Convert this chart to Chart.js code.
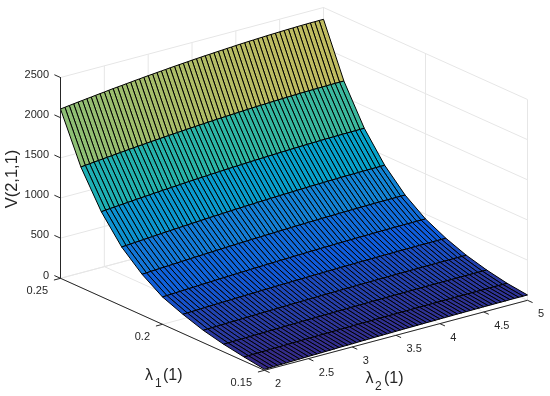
<!DOCTYPE html>
<html>
<head>
<meta charset="utf-8">
<style>
  html, body { margin: 0; padding: 0; background: #fff; }
  canvas { display: block; }
</style>
<script src="https://cdn.jsdelivr.net/npm/chart.js@4/dist/chart.umd.min.js"></script>
</head>
<body>
<canvas id="surface" width="550" height="396"></canvas>
<script>
const lambda1Values = [0.25, 0.24, 0.23, 0.22, 0.21, 0.2, 0.19, 0.18, 0.17, 0.16, 0.15];
const lambda2Values = [2, 2.05, 2.1, 2.15, 2.2, 2.25, 2.3, 2.35, 2.4, 2.45, 2.5, 2.55, 2.6, 2.65, 2.7, 2.75, 2.8, 2.85, 2.9, 2.95, 3, 3.05, 3.1, 3.15, 3.2, 3.25, 3.3, 3.35, 3.4, 3.45, 3.5, 3.55, 3.6, 3.65, 3.7, 3.75, 3.8, 3.85, 3.9, 3.95, 4, 4.05, 4.1, 4.15, 4.2, 4.25, 4.3, 4.35, 4.4, 4.45, 4.5, 4.55, 4.6, 4.65, 4.7, 4.75, 4.8, 4.85, 4.9, 4.95, 5];

const v025 = [2108,2115,2122,2129,2136,2142,2149,2155,2162,2168,2174,2181,2187,2193,2198,2204,2210,2216,2221,2227,2232,2237,2242,2247,2252,2257,2262,2266,2271,2275,2280,2284,2288,2292,2295,2299,2303,2306,2310,2313,2317,2320,2323,2326,2328,2331,2333,2336,2338,2340,2342,2344,2346,2347,2349,2350,2351,2352,2352,2353,2353];
const v024 = [1500,1506,1511,1517,1522,1528,1533,1538,1544,1549,1554,1559,1564,1569,1573,1578,1583,1587,1592,1596,1601,1605,1609,1613,1617,1621,1625,1629,1632,1636,1639,1643,1646,1649,1652,1655,1658,1661,1664,1667,1670,1672,1674,1677,1679,1681,1683,1685,1687,1689,1690,1692,1693,1694,1695,1696,1697,1698,1698,1699,1699];
const v023 = [1058,1063,1068,1072,1077,1081,1086,1090,1095,1099,1103,1107,1112,1116,1120,1124,1127,1131,1135,1139,1143,1146,1150,1153,1156,1160,1163,1166,1169,1172,1175,1178,1180,1183,1186,1188,1191,1193,1196,1198,1200,1202,1204,1206,1208,1210,1212,1213,1215,1216,1218,1219,1220,1221,1222,1223,1223,1224,1224,1225,1225];
const v022 = [733,737,741,745,749,753,757,761,765,769,773,776,780,783,787,790,794,797,800,804,807,810,813,816,819,822,825,827,830,833,835,838,840,842,845,847,849,851,853,855,857,859,861,863,864,866,867,869,870,871,873,874,875,875,876,877,878,878,879,879,879];
const v021 = [508,511,515,518,521,524,527,530,533,536,539,542,545,548,550,553,556,558,561,564,566,569,571,573,576,578,580,582,584,586,588,590,592,594,596,598,600,601,603,604,606,607,609,610,611,613,614,615,616,617,618,619,620,620,621,622,622,622,623,623,623];
const v020 = [340,343,346,349,351,354,357,359,362,365,367,370,372,375,377,379,382,384,386,388,391,393,395,397,399,401,403,405,406,408,410,412,413,415,417,418,420,421,422,424,425,426,428,429,430,431,432,433,434,435,436,436,437,438,438,439,439,439,440,440,440];
const v019 = [239,241,243,245,247,250,252,253,256,257,259,261,263,265,267,268,270,272,274,275,277,279,280,282,283,285,286,287,289,290,292,293,294,295,296,298,299,300,301,302,303,304,305,306,306,307,308,309,309,310,311,311,312,312,313,313,313,314,314,314,314];
const v018 = [154,156,158,159,161,163,165,166,168,169,171,173,174,176,177,179,180,182,183,184,186,187,189,190,191,192,194,195,196,197,198,199,200,201,202,203,204,205,206,207,208,208,209,210,211,211,212,213,213,214,214,215,215,215,216,216,216,217,217,217,217];
const v017 = [95,97,98,100,101,102,104,105,107,108,109,111,112,113,115,116,117,118,119,121,122,123,124,125,126,127,128,129,130,131,132,133,134,135,136,136,137,138,139,139,140,141,141,142,143,143,144,144,145,145,146,146,146,147,147,147,148,148,148,148,148];
const v016 = [51,52,54,55,56,57,59,60,61,62,63,65,66,67,68,69,70,71,72,73,74,75,76,77,78,79,80,81,82,82,83,84,85,85,86,87,88,88,89,90,90,91,91,92,92,93,93,94,94,95,95,95,96,96,96,96,97,97,97,97,97];
const v015 = [12,14,15,17,18,20,21,22,24,25,27,28,29,31,32,33,34,36,37,38,39,40,42,43,44,45,46,47,48,49,50,51,52,52,53,54,55,56,56,57,58,59,59,60,61,61,62,62,63,63,64,64,64,65,65,65,66,66,66,66,66];
const surfaceRows = [v025, v024, v023, v022, v021, v020, v019, v018, v017, v016, v015];

const vTicks = [0, 500, 1000, 1500, 2000, 2500];
const lambda1Ticks = [0.25, 0.2, 0.15];
const lambda2Ticks = [2, 2.5, 3, 3.5, 4, 4.5, 5];

// parula, old matlab version
const parula = ['#352a87', '#0f5cdd', '#1481d6', '#06a4ca', '#2eb7a4', '#87bf77', '#d1bb59', '#fec832', '#f9fb0e'];
const colorMin = 12;
const colorMax = 2353;

// fixed 3d view of the box, orthographic like the original
const view = { x0: 60.5, y0: 278.3, l1x: 204, l1y: 92, l2x: 263, l2y: -70, vy: -200.8 };

function project(l1, l2, v) {
    const a = (0.25 - l1) / 0.1;
    const b = (l2 - 2) / 3;
    return {
        x: view.x0 + a * view.l1x + b * view.l2x,
        y: view.y0 + a * view.l1y + b * view.l2y + (v / 2500) * view.vy
    };
}

function hexToRgb(hex) {
    return [1, 3, 5].map(i => parseInt(hex.substr(i, 2), 16));
}

function colorFor(v) {
    const t = Math.min(1, Math.max(0, (v - colorMin) / (colorMax - colorMin))) * (parula.length - 1);
    const i = Math.min(parula.length - 2, Math.floor(t));
    const a = hexToRgb(parula[i]);
    const b = hexToRgb(parula[i + 1]);
    const c = a.map((p, j) => Math.round(p + (b[j] - p) * (t - i)));
    return `rgb(${c[0]},${c[1]},${c[2]})`;
}

function lineSet(points, color, order, width) {
    return {
        data: points, showLine: true, fill: false, borderColor: color, borderWidth: width,
        pointRadius: 0, tension: 0, order: order
    };
}

const datasets = [];
const gridColor = '#e6e6e6';
const axisColor = '#262626';

// back walls and floor
vTicks.forEach(v => {
    datasets.push(lineSet([project(0.25, 2, v), project(0.25, 5, v), project(0.15, 5, v)], gridColor, 5000, 1));
});
lambda2Ticks.forEach(l2 => {
    datasets.push(lineSet([project(0.15, l2, 0), project(0.25, l2, 0), project(0.25, l2, 2500)], gridColor, 5000, 1));
});
lambda1Ticks.forEach(l1 => {
    datasets.push(lineSet([project(l1, 2, 0), project(l1, 5, 0), project(l1, 5, 2500)], gridColor, 5000, 1));
});

// surface cells, back rows first
for (let i = 0; i < lambda1Values.length - 1; i++) {
    for (let k = 0; k < lambda2Values.length - 1; k++) {
        const l1a = lambda1Values[i], l1b = lambda1Values[i + 1];
        const l2a = lambda2Values[k], l2b = lambda2Values[k + 1];
        const cell = [
            project(l1a, l2a, surfaceRows[i][k]),
            project(l1a, l2b, surfaceRows[i][k + 1]),
            project(l1b, l2b, surfaceRows[i + 1][k + 1]),
            project(l1b, l2a, surfaceRows[i + 1][k]),
            project(l1a, l2a, surfaceRows[i][k])
        ];
        datasets.push({
            data: cell, showLine: true, fill: 'shape',
            backgroundColor: colorFor(surfaceRows[i + 1][k]),
            borderColor: '#000', borderWidth: 1,
            pointRadius: 0, tension: 0, order: 4000 - i * 10
        });
    }
}

// axis lines and ticks
datasets.push(lineSet([project(0.25, 2, 2500), project(0.25, 2, 0), project(0.15, 2, 0), project(0.15, 5, 0)], axisColor, 10, 1));
vTicks.forEach(v => {
    const p = project(0.25, 2, v);
    datasets.push(lineSet([p, { x: p.x - view.l1x * 0.03, y: p.y - view.l1y * 0.03 }], axisColor, 10, 1));
});
lambda1Ticks.forEach(l1 => {
    const p = project(l1, 2, 0);
    datasets.push(lineSet([p, { x: p.x - view.l2x * 0.025, y: p.y - view.l2y * 0.025 }], axisColor, 10, 1));
});
lambda2Ticks.forEach(l2 => {
    const p = project(0.15, l2, 0);
    datasets.push(lineSet([p, { x: p.x + view.l1x * 0.025, y: p.y + view.l1y * 0.025 }], axisColor, 10, 1));
});

const labelsPlugin = {
    id: 'boxLabels',
    afterDraw(chart) {
        const ctx = chart.ctx;
        const sx = chart.scales.x, sy = chart.scales.y;
        const sans = '"Liberation Sans", Arial, sans-serif';
        const px = p => ({ x: sx.getPixelForValue(p.x), y: sy.getPixelForValue(p.y) });
        ctx.save();
        ctx.fillStyle = axisColor;
        ctx.textBaseline = 'middle';
        ctx.font = `11px ${sans}`;

        ctx.textAlign = 'right';
        vTicks.forEach(v => {
            const p = px(project(0.25, 2, v));
            ctx.fillText(String(v), p.x - 11.5, p.y - 2.8);
        });
        lambda1Ticks.forEach(l1 => {
            const p = px(project(l1, 2, 0));
            ctx.fillText(String(l1), p.x - 12.5, p.y + 12.6);
        });
        ctx.textAlign = 'left';
        lambda2Ticks.forEach(l2 => {
            const p = px(project(0.15, l2, 0));
            ctx.fillText(String(l2), p.x + 10.5, p.y + 14);
        });

        // lambda titles
        ctx.font = `16px ${sans}`;
        ctx.fillText('λ', 145, 376);
        ctx.fillText('(1)', 163, 376);
        ctx.fillText('λ', 365.5, 378.5);
        ctx.fillText('(1)', 384, 378.5);
        ctx.font = `12px ${sans}`;
        ctx.fillText('1', 155, 384);
        ctx.fillText('2', 375, 387);

        ctx.font = `16.5px ${sans}`;
        ctx.translate(12.5, 179);
        ctx.rotate(-Math.PI / 2);
        ctx.textAlign = 'center';
        ctx.fillText('V(2,1,1)', 0, 0);
        ctx.restore();
    }
};

new Chart(document.getElementById('surface'), {
    type: 'scatter',
    data: { datasets: datasets },
    options: {
        responsive: false,
        animation: false,
        layout: { padding: 0 },
        plugins: { legend: { display: false }, tooltip: { enabled: false } },
        scales: {
            x: { type: 'linear', display: false, min: 0, max: 550 },
            y: { type: 'linear', display: false, min: 0, max: 396, reverse: true }
        }
    },
    plugins: [labelsPlugin]
});
</script>
</body>
</html>
